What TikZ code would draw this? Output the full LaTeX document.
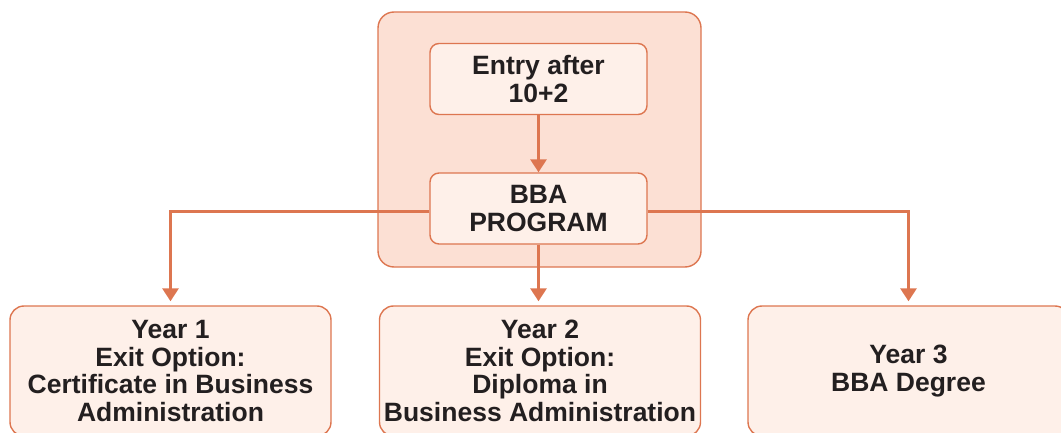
\documentclass[tikz,border=0pt]{standalone}
\usepackage{fontspec}
\setmainfont{Liberation Sans}
\usetikzlibrary{arrows.meta, positioning}
\definecolor{rust}{HTML}{DD7650}
\definecolor{peach}{HTML}{FCE0D4}
\definecolor{shell}{HTML}{FEF0E9}
\definecolor{ink}{HTML}{231F20}

\begin{document}
\begin{tikzpicture}[
    x=1pt, y=-1pt,
    >={Triangle[length=13pt, width=16pt]},
    every node/.style={text=ink, font=\fontsize{26.5}{27.5}\selectfont\bfseries, align=center},
    stagebox/.style={rectangle, rounded corners=9pt, draw=rust, line width=1.4pt,
                     fill=shell, minimum width=217pt, minimum height=71pt, inner sep=0pt},
    exitbox/.style={rectangle, rounded corners=14pt, draw=rust, line width=1.4pt,
                    fill=shell, minimum width=321pt, minimum height=130pt, inner sep=0pt},
    link/.style={->, rust, line width=3pt},
  ]
  \useasboundingbox (0,0) rectangle (1061,433);
  \clip (0,0) rectangle (1061,433);

  % Background panel
  \node[rectangle, rounded corners=16pt, draw=rust, line width=1.4pt, fill=peach,
        minimum width=323pt, minimum height=255pt] (panel) at (539.5,139.5) {};

  % Nodes
  \node[stagebox] (entry) at (538.5,79) {Entry after\\10+2};
  \node[stagebox] (bba) at (538.5,208.5) {BBA\\PROGRAM};

  \node[exitbox] (yr1) at (170.5,371) {Year 1\\Exit Option:\\Certificate in Business\\Administration};
  \node[exitbox] (yr2) at (540,371) {Year 2\\Exit Option:\\Diploma in\\Business Administration};
  \node[exitbox] (yr3) at (908.5,371) {Year 3\\BBA Degree};

  % Edges
  \draw[link] (entry) -- (bba);
  \draw[link, shorten >=4pt] ([yshift=-3.5pt]bba.west) -| (yr1.north);
  \draw[link, shorten >=4pt] (bba) -- (bba |- yr2.north);
  \draw[link, shorten >=4pt] ([yshift=-3.5pt]bba.east) -| (yr3.north);

\end{tikzpicture}
\end{document}
